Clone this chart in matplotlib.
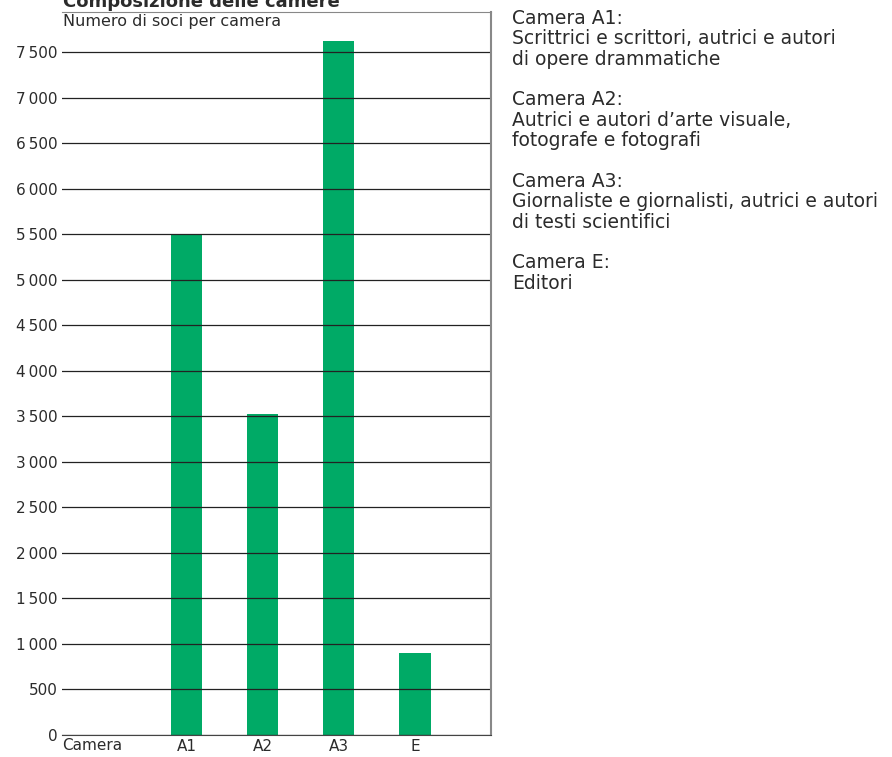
# Composizione delle camere - grafico a barre
import matplotlib.pyplot as plt

plt.rcParams["font.family"] = ["DejaVu Sans"]

# dati
camere = ["A1", "A2", "A3", "E"]
soci = [5490, 3530, 7620, 900]
yticks = [0, 500, 1000, 1500, 2000, 2500, 3000, 3500, 4000, 4500, 5000, 5500, 6000, 6500, 7000, 7500]
legenda = [
    "Camera A1:",
    "Scrittrici e scrittori, autrici e autori",
    "di opere drammatiche",
    "",
    "Camera A2:",
    "Autrici e autori d\u2019arte visuale,",
    "fotografe e fotografi",
    "",
    "Camera A3:",
    "Giornaliste e giornalisti, autrici e autori",
    "di testi scientifici",
    "",
    "Camera E:",
    "Editori",
]

verde = "#00aa66"
testo = "#2b2b2b"

fig = plt.figure(figsize=(8.92, 7.57), dpi=100)
W, H = 892, 757
ax = fig.add_axes([62 / W, 1 - 735 / H, (491 - 62) / W, (735 - 12) / H])

x = [1, 2, 3, 4]
ax.bar(x, soci, width=0.41, color=verde, zorder=1)
ax.set_xlim(-0.64, 5.0)
ax.set_ylim(0, 7940)

# griglia orizzontale
for v in yticks:
    ax.axhline(v, color="#222222", lw=0.9, zorder=2)

ax.set_yticks(yticks)
ax.set_yticklabels([f"{v:,}".replace(",", "\u2009") for v in yticks], fontsize=11, color=testo)
ax.set_xticks(x)
ax.set_xticklabels(camere, fontsize=11, color=testo)
ax.tick_params(length=0, pad=3)

ax.spines["left"].set_visible(False)
ax.spines["top"].set_color("#888888")
ax.spines["right"].set_color("#888888")
ax.spines["right"].set_linewidth(1.5)
ax.spines["bottom"].set_color("#444444")

ax.text(0.003, 0.997, "Numero di soci per camera", transform=ax.transAxes,
        ha="left", va="top", fontsize=11.5, color=testo)
fig.text(62 / W, 1 - 757 / H + 4 / H, "Camera", ha="left", va="bottom", fontsize=11, color=testo)

# titolo (tagliato in alto come nell'originale)
fig.text(63 / W, 1 - 7 / H, "Composizione delle camere", ha="left", va="baseline",
         fontsize=13, fontweight="bold", color=testo)

fig.text(512 / W, 1 - 9 / H, "\n".join(legenda), ha="left", va="top",
         fontsize=13.5, color=testo, linespacing=1.09)

plt.savefig("out.png", dpi=100)
